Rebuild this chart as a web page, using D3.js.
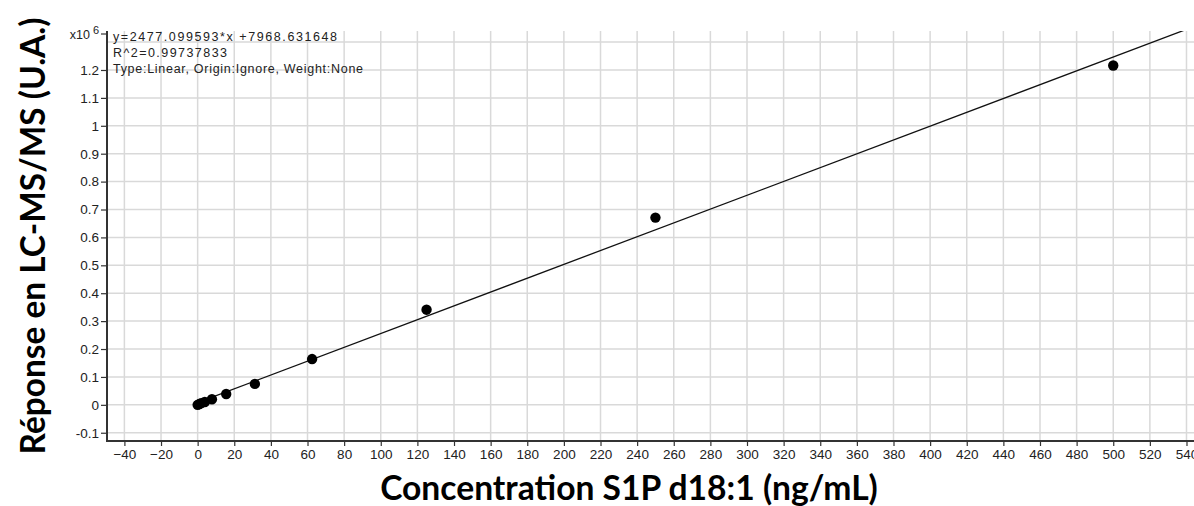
<!DOCTYPE html>
<html><head><meta charset="utf-8">
<script src="https://cdn.jsdelivr.net/npm/d3@7"></script>
<style>html,body{margin:0;padding:0;background:#fff;overflow:hidden}</style>
</head><body>
<svg id="c" width="1194" height="506"></svg>
<script>
// Data
const concentrations = [0, 0.98, 1.95, 3.9, 7.8, 15.6, 31.25, 62.5, 125, 250, 500];
const responses = [0.0, 0.003, 0.006, 0.010, 0.020, 0.039, 0.075, 0.164, 0.341, 0.671, 1.216]; // x10^6
const xTicks = d3.range(-40, 541, 20);
const yTickValues = [-0.1, 0, 0.1, 0.2, 0.3, 0.4, 0.5, 0.6, 0.7, 0.8, 0.9, 1, 1.1, 1.2];
const yGridValues = [-0.1, 0, 0.1, 0.2, 0.3, 0.4, 0.5, 0.6, 0.7, 0.8, 0.9, 1, 1.1, 1.2, 1.3];
const slope = 2477.099593, intercept = 7968.631648;
const fitLines = ["y=2477.099593*x +7968.631648", "R^2=0.99737833", "Type:Linear, Origin:Ignore, Weight:None"];
const xTitle = "Concentration S1P d18:1 (ng/mL)";
const yTitle = "Réponse en LC-MS/MS (U.A.)";

const svg = d3.select("#c");
const pL = 107, pR = 1194, pT = 31, pB = 441;
const x = d3.scaleLinear().domain([-49.5, 544.1]).range([pL, pR]);
const y = d3.scaleLinear().domain([-0.1296, 1.3397]).range([pB, pT]);

// grid
const g = svg.append("g");
g.selectAll("line.v").data(xTicks).join("line")
  .attr("x1", d => x(d)).attr("x2", d => x(d)).attr("y1", pT).attr("y2", pB)
  .attr("stroke", "#d9d9d9").attr("stroke-width", 1.5);
g.selectAll("line.h").data(yGridValues).join("line")
  .attr("x1", pL).attr("x2", pR).attr("y1", d => y(d)).attr("y2", d => y(d))
  .attr("stroke", "#d9d9d9").attr("stroke-width", 1.5);

// axes
const fnt = "'Liberation Sans', Arial, sans-serif";
const xAxis = d3.axisBottom(x).tickValues(xTicks).tickSize(5).tickPadding(3).tickFormat(d3.format("d"));
const xa = svg.append("g").attr("transform", `translate(0,${pB})`).call(xAxis);
const yAxis = d3.axisLeft(y).tickValues(yTickValues).tickSize(6).tickPadding(2).tickFormat(d => String(+d.toFixed(1)));
const ya = svg.append("g").attr("transform", `translate(${pL},0)`).call(yAxis);
[xa, ya].forEach(a => {
  a.select(".domain").remove();
  a.selectAll(".tick line").attr("stroke", "#333").attr("stroke-width", 1.2);
  a.selectAll("text").attr("fill", "#222").style("font-family", fnt).style("font-size", "13.5px");
});
// exponent marker
svg.append("line").attr("x1", pL - 6).attr("x2", pL).attr("y1", 34).attr("y2", 34).attr("stroke", "#333").attr("stroke-width", 1.2);
const ex = svg.append("text").attr("x", 99).attr("y", 39).attr("text-anchor", "end")
  .style("font-family", fnt).style("font-size", "12.5px").attr("fill", "#222");
ex.append("tspan").text("x10");
ex.append("tspan").attr("dy", -5).attr("dx", 3).style("font-size", "11px").text("6");

// axis frame
svg.append("line").attr("x1", pL).attr("x2", pL).attr("y1", pT).attr("y2", pB + 1).attr("stroke", "#333").attr("stroke-width", 2);
svg.append("line").attr("x1", pL).attr("x2", pR).attr("y1", pB).attr("y2", pB).attr("stroke", "#333").attr("stroke-width", 2);

// clip
svg.append("clipPath").attr("id", "clip").append("rect").attr("x", pL).attr("y", pT).attr("width", pR - pL).attr("height", pB - pT);

// fit line
const fx = [0, 544.1];
svg.append("path").attr("clip-path", "url(#clip)")
  .attr("d", d3.line()(fx.map(v => [x(v), y((slope * v + intercept) / 1e6)])))
  .attr("stroke", "#111").attr("stroke-width", 1.3).attr("fill", "none");

// points
svg.selectAll("circle.p").data(concentrations).join("circle")
  .attr("cx", d => x(d)).attr("cy", (d, i) => y(responses[i])).attr("r", 5.2).attr("fill", "#000");

// fit text
const fitW = [224, 114, 250];
svg.selectAll("text.fit").data(fitLines).join("text")
  .attr("x", 113).attr("y", (d, i) => [41, 57, 73][i])
  .attr("textLength", (d, i) => fitW[i]).attr("lengthAdjust", "spacing")
  .style("font-family", fnt).style("font-size", "12.5px").attr("fill", "#222").text(d => d);

// titles
function fit(sel, w) {
  const len = sel.node().getComputedTextLength();
  const fs = parseFloat(sel.style("font-size"));
  sel.style("font-size", (fs * w / len) + "px");
}
const tf = "Lato, 'Open Sans', sans-serif";
const xt = svg.append("text").attr("x", 629).attr("y", 500).attr("text-anchor", "middle")
  .style("font-family", tf).style("font-weight", "bold").style("font-size", "30px").attr("fill", "#000").text(xTitle);
fit(xt, 498);
const yt = svg.append("text").attr("transform", "translate(45,236) rotate(-90)").attr("text-anchor", "middle")
  .style("font-family", tf).style("font-weight", "bold").style("font-size", "30px").attr("fill", "#000").text(yTitle);
fit(yt, 437);
</script>
</body></html>
